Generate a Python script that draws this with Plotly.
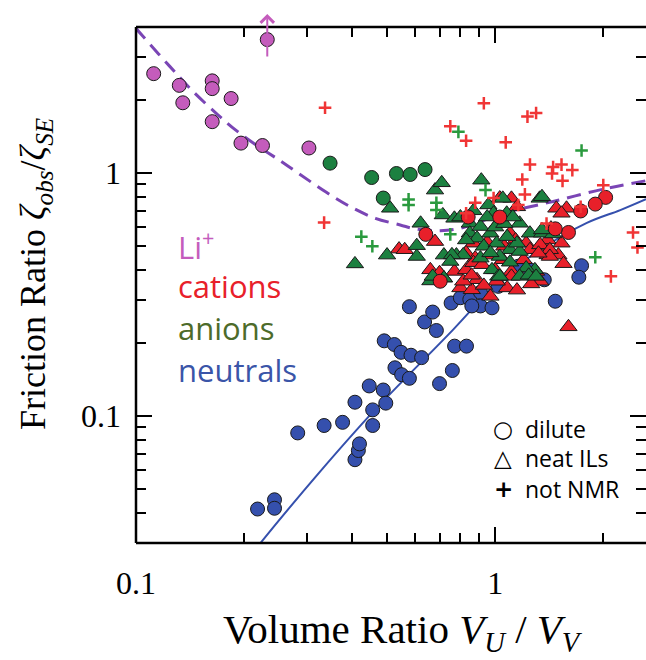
import plotly.graph_objects as go
import math

# ---- data -------------------------------------------------------------
# Li+ (dilute); the last point is off scale (arrow)
li_x = [0.112, 0.132, 0.135, 0.163, 0.163, 0.184, 0.163, 0.196, 0.225, 0.303, 0.232]
li_y = [2.57, 2.30, 1.95, 2.40, 2.23, 2.03, 1.63, 1.33, 1.30, 1.27, 3.55]

# anions, dilute
an_dil_x = [0.347, 0.453, 0.531, 0.580, 0.638, 0.488]
an_dil_y = [1.10, 0.96, 0.997, 0.988, 1.035, 0.79]

# cations, dilute
cat_dil_x = [0.641, 2.03, 1.90, 1.73, 1.60, 1.47, 0.841, 0.703, 1.03]
cat_dil_y = [0.56, 0.795, 0.746, 0.699, 0.57, 0.59, 0.66, 0.359, 0.66]

# neutrals, dilute
neu_x = [0.218, 0.243, 0.243, 0.282, 0.334, 0.376, 0.407, 0.407, 0.416, 0.419,
         0.456, 0.456, 0.446, 0.488, 0.496, 0.526, 0.549, 0.577, 0.491, 0.524,
         0.547, 0.583, 0.624, 0.636, 0.670, 0.686, 0.577, 0.754, 0.771, 0.832,
         0.760, 0.700, 0.80, 0.85, 0.91, 0.91, 0.98, 1.37, 1.47, 1.02,
         1.25, 1.74, 1.71, 1.16, 0.861]
neu_y = [0.0414, 0.0452, 0.0417, 0.0852, 0.0914, 0.0942, 0.114, 0.0661, 0.0721, 0.0768,
         0.0914, 0.106, 0.133, 0.128, 0.113, 0.158, 0.148, 0.143, 0.204, 0.197,
         0.183, 0.178, 0.174, 0.244, 0.268, 0.225, 0.282, 0.292, 0.194, 0.194,
         0.154, 0.136, 0.307, 0.302, 0.323, 0.284, 0.279, 0.364, 0.297, 0.342,
         0.40, 0.416, 0.373, 0.414, 0.284]

# cations, neat ionic liquids
cat_il_x = [1.48, 1.58, 1.39, 1.40, 1.50, 1.55, 1.60, 1.335, 0.54, 0.68,
            0.66, 0.71, 0.77, 1.11, 1.40, 0.80, 0.861, 0.89, 0.97, 1.08,
            1.30, 1.53, 0.83, 0.815, 1.01, 1.11, 0.87, 1.10, 1.14, 1.22,
            1.25, 1.335, 1.42, 0.83, 0.88, 0.87, 1.02, 1.15, 1.53, 1.43,
            0.72, 1.11, 1.42, 1.32, 1.03, 0.56, 0.70, 0.92, 0.96, 1.05,
            1.06, 1.20, 0.95, 1.00, 0.86, 0.93, 1.15, 1.26]
cat_il_y = [0.717, 0.717, 0.50, 0.461, 0.46, 0.424, 0.233, 0.359, 0.487, 0.523,
            0.40, 0.378, 0.394, 0.788, 0.531, 0.337, 0.331, 0.364, 0.311, 0.337,
            0.394, 0.515, 0.40, 0.359, 0.359, 0.394, 0.515, 0.566, 0.531, 0.515,
            0.484, 0.507, 0.484, 0.47, 0.447, 0.428, 0.622, 0.727, 0.684, 0.594,
            0.37, 0.376, 0.454, 0.468, 0.79, 0.484, 0.389, 0.42, 0.46, 0.44,
            0.50, 0.44, 0.52, 0.40, 0.38, 0.345, 0.33, 0.35]

# anions, neat ionic liquids
an_il_x = [0.407, 0.50, 0.605, 0.605, 0.62, 0.51, 0.68, 0.71, 0.715, 0.77,
           0.72, 0.78, 0.66, 0.915, 1.33, 1.05, 0.85, 0.957, 0.99, 1.077,
           1.17, 1.25, 1.35, 0.85, 0.89, 0.97, 1.10, 1.17, 0.93, 0.815,
           0.758, 0.75, 0.91, 1.03, 1.29, 1.22, 0.98, 1.02, 1.17, 0.72,
           0.67, 1.15, 1.35, 1.45, 1.35, 1.01, 1.08, 0.91, 0.83, 0.97,
           1.10, 1.03, 1.24, 1.30, 0.87, 0.95, 1.00, 1.06, 1.12, 0.80]
an_il_y = [0.423, 0.46, 0.454, 0.503, 0.622, 0.717, 0.852, 0.913, 0.673, 0.652,
           0.46, 0.46, 0.36, 0.936, 0.788, 0.788, 0.622, 0.74, 0.684, 0.684,
           0.622, 0.566, 0.566, 0.566, 0.54, 0.566, 0.484, 0.476, 0.50, 0.461,
           0.461, 0.433, 0.447, 0.454, 0.40, 0.407, 0.40, 0.376, 0.376, 0.37,
           0.376, 0.515, 0.80, 0.562, 0.584, 0.515, 0.548, 0.603, 0.531, 0.47,
           0.43, 0.376, 0.38, 0.376, 0.70, 0.66, 0.60, 0.62, 0.66, 0.66]

# cations, not NMR
cat_nn_x = [0.93, 1.23, 1.30, 0.75, 0.83, 1.07, 1.25, 1.19, 1.45, 1.53,
            1.44, 1.64, 1.54, 2.0, 1.21, 0.336, 0.334, 0.88, 0.83, 1.73,
            2.42, 2.49, 2.10, 1.39, 0.99, 1.16]
cat_nn_y = [1.94, 1.71, 1.77, 1.56, 1.36, 1.34, 1.085, 0.942, 1.06, 1.085,
            0.997, 1.03, 0.93, 0.893, 0.818, 1.86, 0.626, 0.756, 0.684, 0.728,
            0.57, 0.494, 0.376, 0.62, 0.79, 0.74]

# anions, not NMR
an_nn_x = [0.79, 1.74, 0.94, 0.574, 0.574, 0.686, 0.686, 0.424, 0.455, 0.75, 1.90]
an_nn_y = [1.48, 1.24, 0.852, 0.78, 0.739, 0.756, 0.705, 0.548, 0.50, 0.56, 0.451]

# guide curves
li_curve_x = [0.1, 0.1044, 0.124, 0.142, 0.169, 0.190, 0.214, 0.251, 0.285, 0.338,
              0.395, 0.464, 0.544, 0.605, 0.703, 0.799, 0.93, 1.08, 1.45, 2.0, 2.62]
li_curve_y = [3.95, 3.67, 2.76, 2.22, 1.74, 1.50, 1.32, 1.13, 0.993, 0.836,
              0.728, 0.652, 0.612, 0.588, 0.580, 0.593, 0.640, 0.690, 0.765, 0.86, 0.93]

neu_curve_x = [0.218, 0.224, 0.325, 0.457, 0.764, 1.033, 1.335, 1.80, 2.23, 2.63]
neu_curve_y = [0.029, 0.0305, 0.0589, 0.104, 0.227, 0.364, 0.484, 0.624, 0.705, 0.782]

x_ticks = [0.1, 1]
x_tick_text = ["0.1", "1"]
x_minor = [0.2, 0.3, 0.4, 0.5, 0.6, 0.7, 0.8, 0.9, 2]
y_ticks = [0.1, 1]
y_tick_text = ["0.1", "1"]
y_minor = [0.04, 0.05, 0.06, 0.07, 0.08, 0.09, 0.2, 0.3, 0.4, 0.5, 0.6, 0.7, 0.8, 0.9, 2, 3]

# ---- styling ----------------------------------------------------------
MAGENTA = "#c45cbc"
RED = "#e8202a"
GREEN = "#1c8040"
BLUE = "#3550ad"
OUTLINE = dict(color="#1a1a1a", width=1)
SERIF = "Liberation Serif"
SANS = "Open Sans"

fig = go.Figure()

fig.add_trace(go.Scatter(x=li_curve_x, y=li_curve_y, mode="lines", line_shape="spline",
                         line=dict(color="#7a45b5", width=3, dash="14px,8px"), hoverinfo="skip"))
fig.add_trace(go.Scatter(x=neu_curve_x, y=neu_curve_y, mode="lines", line_shape="spline",
                         line=dict(color=BLUE, width=2), hoverinfo="skip"))

def circles(x, y, color):
    return go.Scatter(x=x, y=y, mode="markers",
                      marker=dict(symbol="circle", size=14, color=color, line=OUTLINE))

def triangles(x, y, color):
    return go.Scatter(x=x, y=y, mode="markers",
                      marker=dict(symbol="triangle-up", size=15, color=color, line=OUTLINE))

def pluses(x, y, color):
    return go.Scatter(x=x, y=y, mode="markers",
                      marker=dict(symbol="cross-thin", size=9, color=color,
                                  line=dict(color=color, width=2.5)))

fig.add_trace(circles(neu_x, neu_y, BLUE))
fig.add_trace(triangles(cat_il_x, cat_il_y, RED))
fig.add_trace(triangles(an_il_x, an_il_y, GREEN))
fig.add_trace(circles(cat_dil_x, cat_dil_y, RED))
fig.add_trace(circles(an_dil_x, an_dil_y, GREEN))
fig.add_trace(circles(li_x, li_y, MAGENTA))
fig.add_trace(pluses(cat_nn_x, cat_nn_y, "#f03535"))
fig.add_trace(pluses(an_nn_x, an_nn_y, "#2a9a3e"))

# plot-area geometry (pixels) used for placing the free text
L, R, T, B = 136, 646, 27, 543
def px(xp):
    return (xp - L) / (R - L)
def py(yp):
    return (B - yp) / (B - T)

annotations = []
# category labels
for label, color, yc in [("Li<sup>+</sup>", MAGENTA, 245),
                         ("cations", RED, 286),
                         ("anions", "#4d6b2a", 328),
                         ("neutrals", "#3a55a8", 370)]:
    annotations.append(dict(text=label, x=px(176), y=py(yc), xref="paper", yref="paper",
                            xanchor="left", yanchor="middle", showarrow=False,
                            font=dict(family=SANS, size=31, color=color)))
# symbol key
for sym, label, yc in [("○", "dilute", 429), ("△", "neat ILs", 458), ("<b>+</b>", "not NMR", 489)]:
    annotations.append(dict(text=sym, x=px(503), y=py(yc), xref="paper", yref="paper",
                            xanchor="center", yanchor="middle", showarrow=False,
                            font=dict(family="DejaVu Sans", size=23, color="black")))
    annotations.append(dict(text=label, x=px(523), y=py(yc), xref="paper", yref="paper",
                            xanchor="left", yanchor="middle", showarrow=False,
                            font=dict(family=SANS, size=23, color="black")))
# axis titles
annotations.append(dict(text="Volume Ratio <i>V<sub>U</sub></i> / <i>V<sub>V</sub></i>",
                        x=px(403), y=py(632), xref="paper", yref="paper",
                        xanchor="center", yanchor="middle", showarrow=False,
                        font=dict(family=SERIF, size=41, color="black")))
annotations.append(dict(text="Friction Ratio <i>ζ<sub>obs</sub></i>/<i>ζ<sub>SE</sub></i>",
                        x=px(35), y=py(274), xref="paper", yref="paper", textangle=-90,
                        xanchor="center", yanchor="middle", showarrow=False,
                        font=dict(family=SERIF, size=36, color="black")))
# off-scale Li+ point: upward arrow (log axis -> position given as exponent)
annotations.append(dict(text="", x=math.log10(li_x[-1]), xref="x", y=py(14), yref="paper",
                        showarrow=True, ax=0, ay=44, arrowhead=4, arrowsize=1.3,
                        arrowwidth=2, arrowcolor=MAGENTA))

axis_common = dict(type="log", showgrid=False, zeroline=False, showline=False,
                   mirror="ticks", ticks="inside", ticklen=16, tickwidth=2,
                   tickcolor="black", tickfont=dict(family=SERIF, size=32, color="black"))

fig.update_layout(
    width=646, height=660,
    margin=dict(l=L, r=646 - R, t=T, b=660 - B),
    paper_bgcolor="white", plot_bgcolor="white",
    showlegend=False,
    xaxis=dict(range=[math.log10(0.1), math.log10(2.63)], tickmode="array",
               tickvals=x_ticks, ticktext=x_tick_text, ticklabelstandoff=18,
               minor=dict(tickvals=x_minor, ticks="inside", ticklen=10, tickwidth=2,
                          tickcolor="black"),
               **axis_common),
    yaxis=dict(range=[math.log10(0.03), math.log10(4)], tickmode="array",
               tickvals=y_ticks, ticktext=y_tick_text, ticklabelstandoff=14,
               minor=dict(tickvals=y_minor, ticks="inside", ticklen=10, tickwidth=2,
                          tickcolor="black"),
               **axis_common),
    annotations=annotations,
    shapes=[
        dict(type="line", xref="paper", yref="paper", x0=0, x1=0, y0=0, y1=1,
             line=dict(color="black", width=2.5)),
        dict(type="line", xref="paper", yref="paper", x0=0, x1=1, y0=0, y1=0,
             line=dict(color="black", width=2.5)),
        dict(type="line", xref="paper", yref="paper", x0=0, x1=1, y0=1, y1=1,
             line=dict(color="black", width=2.5)),
    ],
)

fig.write_html("out.html")
